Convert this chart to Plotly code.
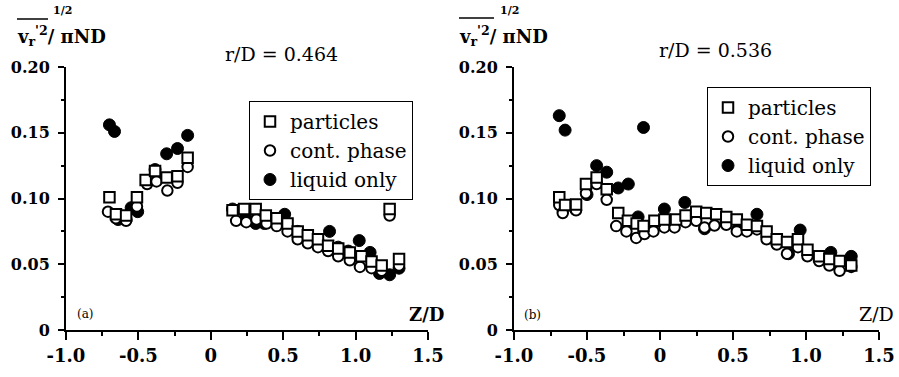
import plotly.graph_objects as go

# ---------------- data ----------------
# panel (a): r/D = 0.464
particles_a_z = [-0.70, -0.655, -0.585, -0.51, -0.45, -0.385, -0.305, -0.23, -0.16,
                 0.15, 0.23, 0.31, 0.38, 0.455, 0.53, 0.60, 0.67, 0.74, 0.81, 0.88,
                 0.96, 1.04, 1.11, 1.18, 1.235, 1.30]
particles_a_v = [0.101, 0.088, 0.087, 0.101, 0.114, 0.121, 0.116, 0.117, 0.131,
                 0.091, 0.092, 0.092, 0.087, 0.085, 0.081, 0.075, 0.072, 0.069, 0.064, 0.062,
                 0.059, 0.056, 0.052, 0.049, 0.092, 0.054]

cont_a_z = [-0.71, -0.655, -0.585, -0.51, -0.44, -0.375, -0.30, -0.23, -0.16,
            0.175, 0.245, 0.315, 0.385, 0.455, 0.53, 0.60, 0.67, 0.74, 0.81, 0.88,
            0.96, 1.03, 1.11, 1.18, 1.235, 1.30]
cont_a_v = [0.090, 0.085, 0.083, 0.094, 0.111, 0.113, 0.106, 0.112, 0.124,
            0.083, 0.082, 0.084, 0.081, 0.079, 0.075, 0.069, 0.066, 0.063, 0.060, 0.056,
            0.053, 0.048, 0.047, 0.045, 0.087, 0.049]

liquid_a_z = [-0.70, -0.665, -0.64, -0.585, -0.55, -0.505, -0.385, -0.305, -0.23, -0.16,
              0.15, 0.24, 0.31, 0.37, 0.51, 0.60, 0.67, 0.74, 0.82, 0.88, 0.95,
              1.025, 1.10, 1.165, 1.235, 1.30]
liquid_a_v = [0.156, 0.151, 0.084, 0.084, 0.093, 0.090, 0.122, 0.134, 0.138, 0.148,
              0.092, 0.086, 0.081, 0.081, 0.088, 0.075, 0.071, 0.068, 0.075, 0.063, 0.060,
              0.068, 0.059, 0.043, 0.042, 0.047]

# panel (b): r/D = 0.536
particles_b_z = [-0.69, -0.65, -0.575, -0.507, -0.434, -0.365, -0.286, -0.22, -0.16, -0.113,
                 -0.038, 0.03, 0.11, 0.175, 0.248, 0.317, 0.385, 0.454, 0.526, 0.595,
                 0.664, 0.73, 0.80, 0.87, 0.945, 1.01, 1.09, 1.16, 1.23, 1.31]
particles_b_v = [0.101, 0.095, 0.0955, 0.111, 0.116, 0.107, 0.089, 0.083, 0.081, 0.079,
                 0.083, 0.084, 0.084, 0.087, 0.090, 0.089, 0.088, 0.086, 0.084, 0.080,
                 0.079, 0.075, 0.069, 0.067, 0.069, 0.061, 0.056, 0.054, 0.0525, 0.049]

cont_b_z = [-0.69, -0.666, -0.575, -0.507, -0.434, -0.365, -0.30, -0.23, -0.163, -0.106,
            -0.045, 0.03, 0.10, 0.175, 0.248, 0.305, 0.373, 0.454, 0.526, 0.595,
            0.664, 0.73, 0.80, 0.87, 0.945, 1.01, 1.09, 1.16, 1.23, 1.31]
cont_b_v = [0.095, 0.089, 0.091, 0.104, 0.111, 0.099, 0.079, 0.075, 0.070, 0.073,
            0.075, 0.078, 0.078, 0.082, 0.083, 0.078, 0.0795, 0.080, 0.075, 0.075,
            0.0765, 0.069, 0.065, 0.058, 0.063, 0.056, 0.0525, 0.049, 0.045, 0.048]

liquid_b_z = [-0.69, -0.65, -0.58, -0.50, -0.434, -0.365, -0.286, -0.217, -0.15, -0.113,
              0.03, 0.17, 0.305, 0.45, 0.53, 0.664, 0.80, 0.88, 0.96, 1.09, 1.17, 1.31]
liquid_b_v = [0.163, 0.152, 0.092, 0.103, 0.125, 0.120, 0.108, 0.111, 0.086, 0.154,
              0.092, 0.097, 0.077, 0.081, 0.076, 0.088, 0.068, 0.058, 0.076, 0.055, 0.059, 0.056]

x_tickvals = [-1.0, -0.5, 0, 0.5, 1.0, 1.5]
x_ticktext = ["-1.0", "-0.5", "0", "0.5", "1.0", "1.5"]
y_tickvals = [0, 0.05, 0.10, 0.15, 0.20]
y_ticktext = ["0", "0.05", "0.10", "0.15", "0.20"]
series_names = ["particles", "cont. phase", "liquid only"]

# ---------------- figure ----------------
W, H = 899, 377
SERIF = "DejaVu Serif"

def px(x):
    return x / W

def py(y):
    return 1 - y / H

fig = go.Figure()

panels = [
    dict(x="x", y="y", legend="legend",
         p=(particles_a_z, particles_a_v), c=(cont_a_z, cont_a_v), l=(liquid_a_z, liquid_a_v)),
    dict(x="x2", y="y2", legend="legend2",
         p=(particles_b_z, particles_b_v), c=(cont_b_z, cont_b_v), l=(liquid_b_z, liquid_b_v)),
]

for pn in panels:
    fig.add_trace(go.Scatter(
        x=pn["l"][0], y=pn["l"][1], mode="markers", name=series_names[2],
        xaxis=pn["x"], yaxis=pn["y"], legend=pn["legend"],
        marker=dict(symbol="circle", size=12, color="black",
                    line=dict(color="black", width=1))))
    fig.add_trace(go.Scatter(
        x=pn["c"][0], y=pn["c"][1], mode="markers", name=series_names[1],
        xaxis=pn["x"], yaxis=pn["y"], legend=pn["legend"],
        marker=dict(symbol="circle", size=10.5, color="white",
                    line=dict(color="black", width=2))))
    fig.add_trace(go.Scatter(
        x=pn["p"][0], y=pn["p"][1], mode="markers", name=series_names[0],
        xaxis=pn["x"], yaxis=pn["y"], legend=pn["legend"],
        marker=dict(symbol="square", size=10.5, color="white",
                    line=dict(color="black", width=2))))

xdom = [[px(66), px(428)], [px(514), px(879)]]
ydom = [py(330), py(67)]

def xaxis(dom, anchor):
    return dict(domain=dom, anchor=anchor, range=[-1.0, 1.5], automargin=False,
                tickmode="array", tickvals=x_tickvals, ticktext=x_ticktext,
                ticks="outside", ticklen=8, tickwidth=2, tickcolor="black",
                minor=dict(tick0=-1.0, dtick=0.25, ticks="outside", ticklen=4,
                           tickwidth=2, tickcolor="black"),
                showline=True, linewidth=2, linecolor="black",
                showgrid=False, zeroline=False,
                tickfont=dict(family=SERIF, size=18, color="black", weight="bold"))

def yaxis(anchor):
    return dict(domain=ydom, anchor=anchor, range=[0, 0.2], automargin=False,
                tickmode="array", tickvals=y_tickvals, ticktext=y_ticktext,
                ticks="outside", ticklen=6, tickwidth=2, tickcolor="black",
                minor=dict(tick0=0, dtick=0.025, ticks="outside", ticklen=3,
                           tickwidth=2, tickcolor="black"),
                showline=True, linewidth=2, linecolor="black",
                showgrid=False, zeroline=False, ticklabelstandoff=5,
                tickfont=dict(family=SERIF, size=16, color="black", weight="bold"))

legend_common = dict(bgcolor="white", bordercolor="black", borderwidth=1,
                     font=dict(family=SERIF, size=20, color="black"),
                     traceorder="reversed", xanchor="left", yanchor="top",
                     itemclick=False, itemdoubleclick=False, tracegroupgap=0)

fig.update_layout(
    width=W, height=H,
    margin=dict(l=0, r=0, t=0, b=0, pad=0),
    paper_bgcolor="white", plot_bgcolor="white",
    xaxis=xaxis(xdom[0], "y"),
    yaxis=yaxis("x"),
    xaxis2=xaxis(xdom[1], "y2"),
    yaxis2=yaxis("x2"),
    legend=dict(x=px(249), y=py(101), **legend_common),
    legend2=dict(x=px(707), y=py(87), **legend_common),
    showlegend=True,
)

annotations = []

def ann(text, x, y, size, bold=False, xanchor="center"):
    annotations.append(dict(text=text, x=px(x), y=py(y), xref="paper", yref="paper",
                            showarrow=False, xanchor=xanchor, yanchor="middle",
                            font=dict(family=SERIF, size=size, color="black",
                                      weight="bold" if bold else "normal")))

ann("r/D = 0.464", 281, 54, 19)
ann("r/D = 0.536", 715, 50, 19)
ann("(a)", 85, 314, 12)
ann("(b)", 532, 315, 12)
ann("Z/D", 426, 314, 18, bold=True)
ann("Z/D", 876, 314, 19)

ylabel = "v<sub>r</sub><sup>'2</sup>/ πND"
ann(ylabel, 15, 36, 18, bold=True, xanchor="left")
ann("1/2", 51, 11, 11, bold=True, xanchor="left")
ann(ylabel, 457, 36, 18, bold=True, xanchor="left")
ann("1/2", 498, 10, 11, bold=True, xanchor="left")

fig.update_layout(annotations=annotations)

# overlines for the y titles
for (x0, x1, y0) in [(17, 48, 19), (459, 494, 18)]:
    fig.add_shape(type="line", xref="paper", yref="paper",
                  x0=px(x0), x1=px(x1), y0=py(y0), y1=py(y0),
                  line=dict(color="black", width=1.5))

fig.write_html("out.html")
